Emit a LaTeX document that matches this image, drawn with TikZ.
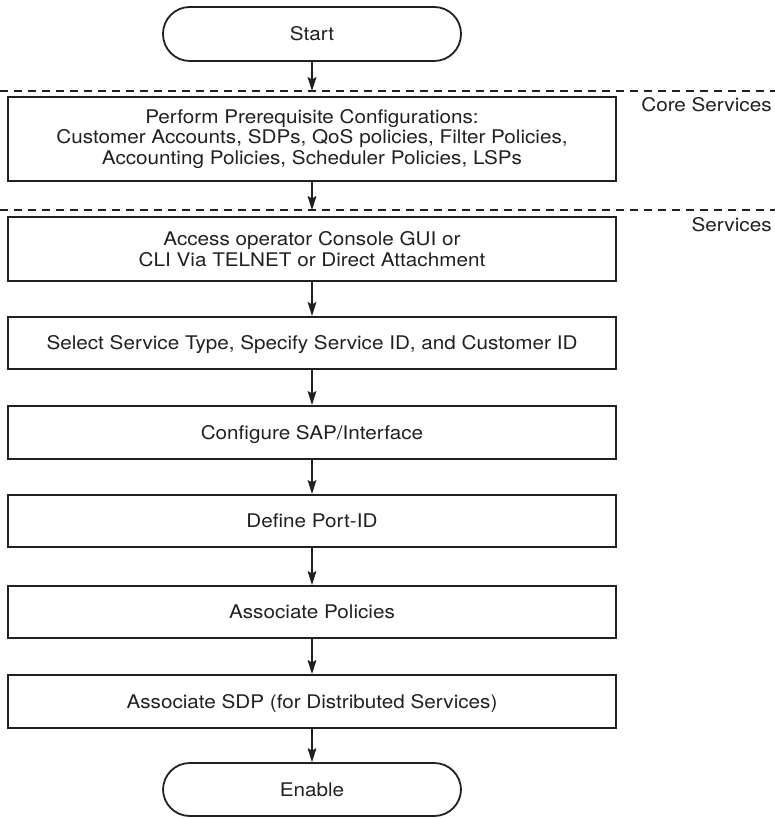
\documentclass[tikz,border=0pt]{standalone}
\usepackage{fontspec}
\setmainfont[FakeStretch=1.1]{TeX Gyre Heros}
\usetikzlibrary{arrows.meta}
\definecolor{ink}{HTML}{231F20}
\begin{document}
\begin{tikzpicture}[x=0.5pt,y=-0.5pt,
  every node/.style={text=ink, font=\fontsize{9.4}{10.3}\selectfont},
  box/.style={draw=ink, line width=1pt, minimum width=304pt, inner sep=0pt, align=center},
  one/.style={box, minimum height=26pt, text height=6.8pt, text depth=0pt},
  term/.style={draw=ink, line width=0.9pt, rounded corners=13.4pt, minimum width=149pt, minimum height=27pt, inner sep=0pt, text height=6.8pt, text depth=0pt},
  flow/.style={draw=ink, line width=0.55pt, -{Stealth[length=7pt,width=4.4pt,inset=1.2pt]}},
  sep/.style={draw=ink, line width=0.7pt, dash pattern=on 4pt off 3pt},
  lane/.style={anchor=base east, inner sep=0pt}
]
\useasboundingbox (0,0) rectangle (775,818);

% separators
\coordinate (d1l) at (0,91);
\coordinate (d1r) at (775,91);
\coordinate (d1) at (312,91);
\coordinate (d2l) at (0,210);
\coordinate (d2r) at (775,210);
\coordinate (d2) at (312,210);
\draw[sep] (d1l) -- (d1r);
\draw[sep] (d2l) -- (d2r);

% nodes
\node[term] (start) at (312,34) {Start};
\node[box, minimum height=42pt, font=\fontsize{9.4}{8.75}\selectfont] (core) at (312,139)
  {Perform Prerequisite Configurations:\\Customer Accounts, SDPs, QoS policies, Filter Policies,\\Accounting Policies, Scheduler Policies, LSPs};
\node[box, minimum height=32pt] (access) at (312,249)
  {Access operator Console GUI or\\CLI Via TELNET or Direct Attachment};
\node[one] (select) at (312,343) {Select Service Type, Specify Service ID, and Customer ID};
\node[one, minimum height=26.5pt] (config) at (312,432.5) {Configure SAP/Interface};
\node[one] (port) at (312,521) {Define Port-ID};
\node[one] (policies) at (312,612) {Associate Policies};
\node[one, minimum height=26.5pt] (sdp) at (312,701.5) {Associate SDP (for Distributed Services)};
\node[term, minimum height=26.5pt] (enable) at (312,789.5) {Enable};

\node[lane] (corelbl) at (772,112) {Core Services};
\node[lane] (svclbl) at (772,231) {Services};

% connectors
\draw[flow] (start) -- (d1);
\draw[flow] (core) -- (d2);
\draw[flow] (access) -- (select);
\draw[flow] (select) -- (config);
\draw[flow] (config) -- (port);
\draw[flow] (port) -- (policies);
\draw[flow] (policies) -- (sdp);
\draw[flow] (sdp) -- (enable);
\end{tikzpicture}
\end{document}
